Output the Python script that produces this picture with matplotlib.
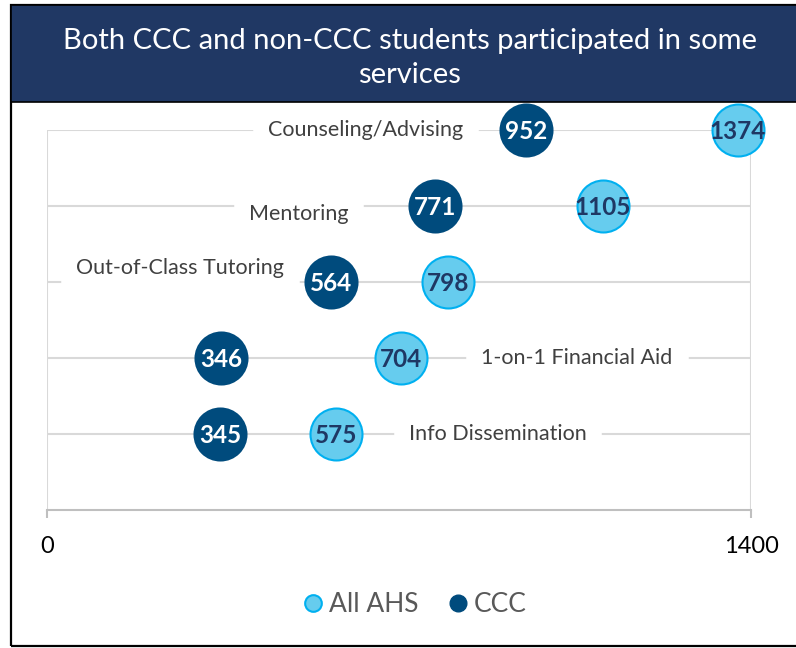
import matplotlib
matplotlib.use('Agg')
import matplotlib.pyplot as plt
from matplotlib.patches import Rectangle
from matplotlib.lines import Line2D

# Data
categories = ['Counseling/Advising', 'Mentoring', 'Out-of-Class Tutoring',
              '1-on-1 Financial Aid', 'Info Dissemination']
all_ahs = [1374, 1105, 798, 704, 575]
ccc = [952, 771, 564, 346, 345]
rows = [5, 4, 3, 2, 1]

# where the category labels sit (data coords)
label_x = [633, 500, 265, 1054, 896]
label_y = [5.0, 3.9, 3.18, 2.0, 1.0]

light = '#66CCEE'
light_edge = '#00B0F0'
dark = '#004B7D'
navy = '#203864'

plt.rcParams['font.family'] = ['Lato', 'DejaVu Sans']

fig = plt.figure(figsize=(7.96, 6.48), dpi=100, facecolor='white')

# outer frame and title banner
fig.patches.append(Rectangle((11 / 796, 2 / 648), 1.0, 641 / 648, transform=fig.transFigure,
                             facecolor='none', edgecolor='black', linewidth=1.6, zorder=0))
fig.patches.append(Rectangle((11 / 796, 546 / 648), 1.0, 97 / 648, transform=fig.transFigure,
                             facecolor=navy, edgecolor='black', linewidth=1.2, zorder=1))
fig.text(0.515, 0.9105, 'Both CCC and non-CCC students participated in some\nservices',
         color='white', fontsize=21, ha='center', va='center', linespacing=1.4)

ax = fig.add_axes([47 / 796, 138 / 648, 704 / 796, 380 / 648])
ax.set_zorder(3)
ax.set_xlim(0, 1400)
ax.set_ylim(0, 5)
ax.set_facecolor('none')

for y in rows:
    ax.plot([0, 1400], [y, y], color='#D9D9D9', lw=1.5, zorder=1)
for x in [0, 1400]:
    ax.plot([x, x], [0, 5], color='#D9D9D9', lw=1.5, zorder=1)

for name, lx, ly in zip(categories, label_x, label_y):
    ax.text(lx, ly, name, ha='center', va='center', fontsize=15.5, color='#404040', zorder=2,
            bbox=dict(boxstyle='square,pad=0.0', facecolor='white', edgecolor='white',
                      linewidth=22))

ax.scatter(all_ahs, rows, s=1400, color=light, edgecolor=light_edge, linewidth=1.5,
           zorder=3, clip_on=False)
ax.scatter(ccc, rows, s=1400, color=dark, edgecolor=dark, linewidth=1.5,
           zorder=3, clip_on=False)
for v, y in zip(all_ahs, rows):
    ax.text(v, y - 0.02, str(v), ha='center', va='center', fontsize=17.5, fontweight='bold',
            color='#1F3864', zorder=4)
for v, y in zip(ccc, rows):
    ax.text(v, y - 0.02, str(v), ha='center', va='center', fontsize=17.5, fontweight='bold',
            color='white', zorder=4)

for s in ['top', 'right', 'left']:
    ax.spines[s].set_visible(False)
ax.spines['bottom'].set_color('#BFBFBF')
ax.spines['bottom'].set_linewidth(1.5)
ax.set_xticks([0, 1400])
ax.set_xticklabels(['0', '1400'], fontsize=17)
ax.tick_params(axis='x', length=6, width=1.5, color='#BFBFBF', pad=13)
ax.set_yticks([])

handles = [Line2D([], [], marker='o', ls='', markersize=12, markerfacecolor=light,
                  markeredgecolor=light_edge, markeredgewidth=1.5),
           Line2D([], [], marker='o', ls='', markersize=12, markerfacecolor=dark,
                  markeredgecolor=dark)]
leg = fig.legend(handles, ['All AHS', 'CCC'], loc='center', bbox_to_anchor=(413 / 796, 43 / 648),
                 ncol=2, frameon=False, fontsize=19, handletextpad=0.1, columnspacing=1.0,
                 handlelength=1.0)
for t in leg.get_texts():
    t.set_color('#595959')

fig.savefig('out.png', dpi=100)
